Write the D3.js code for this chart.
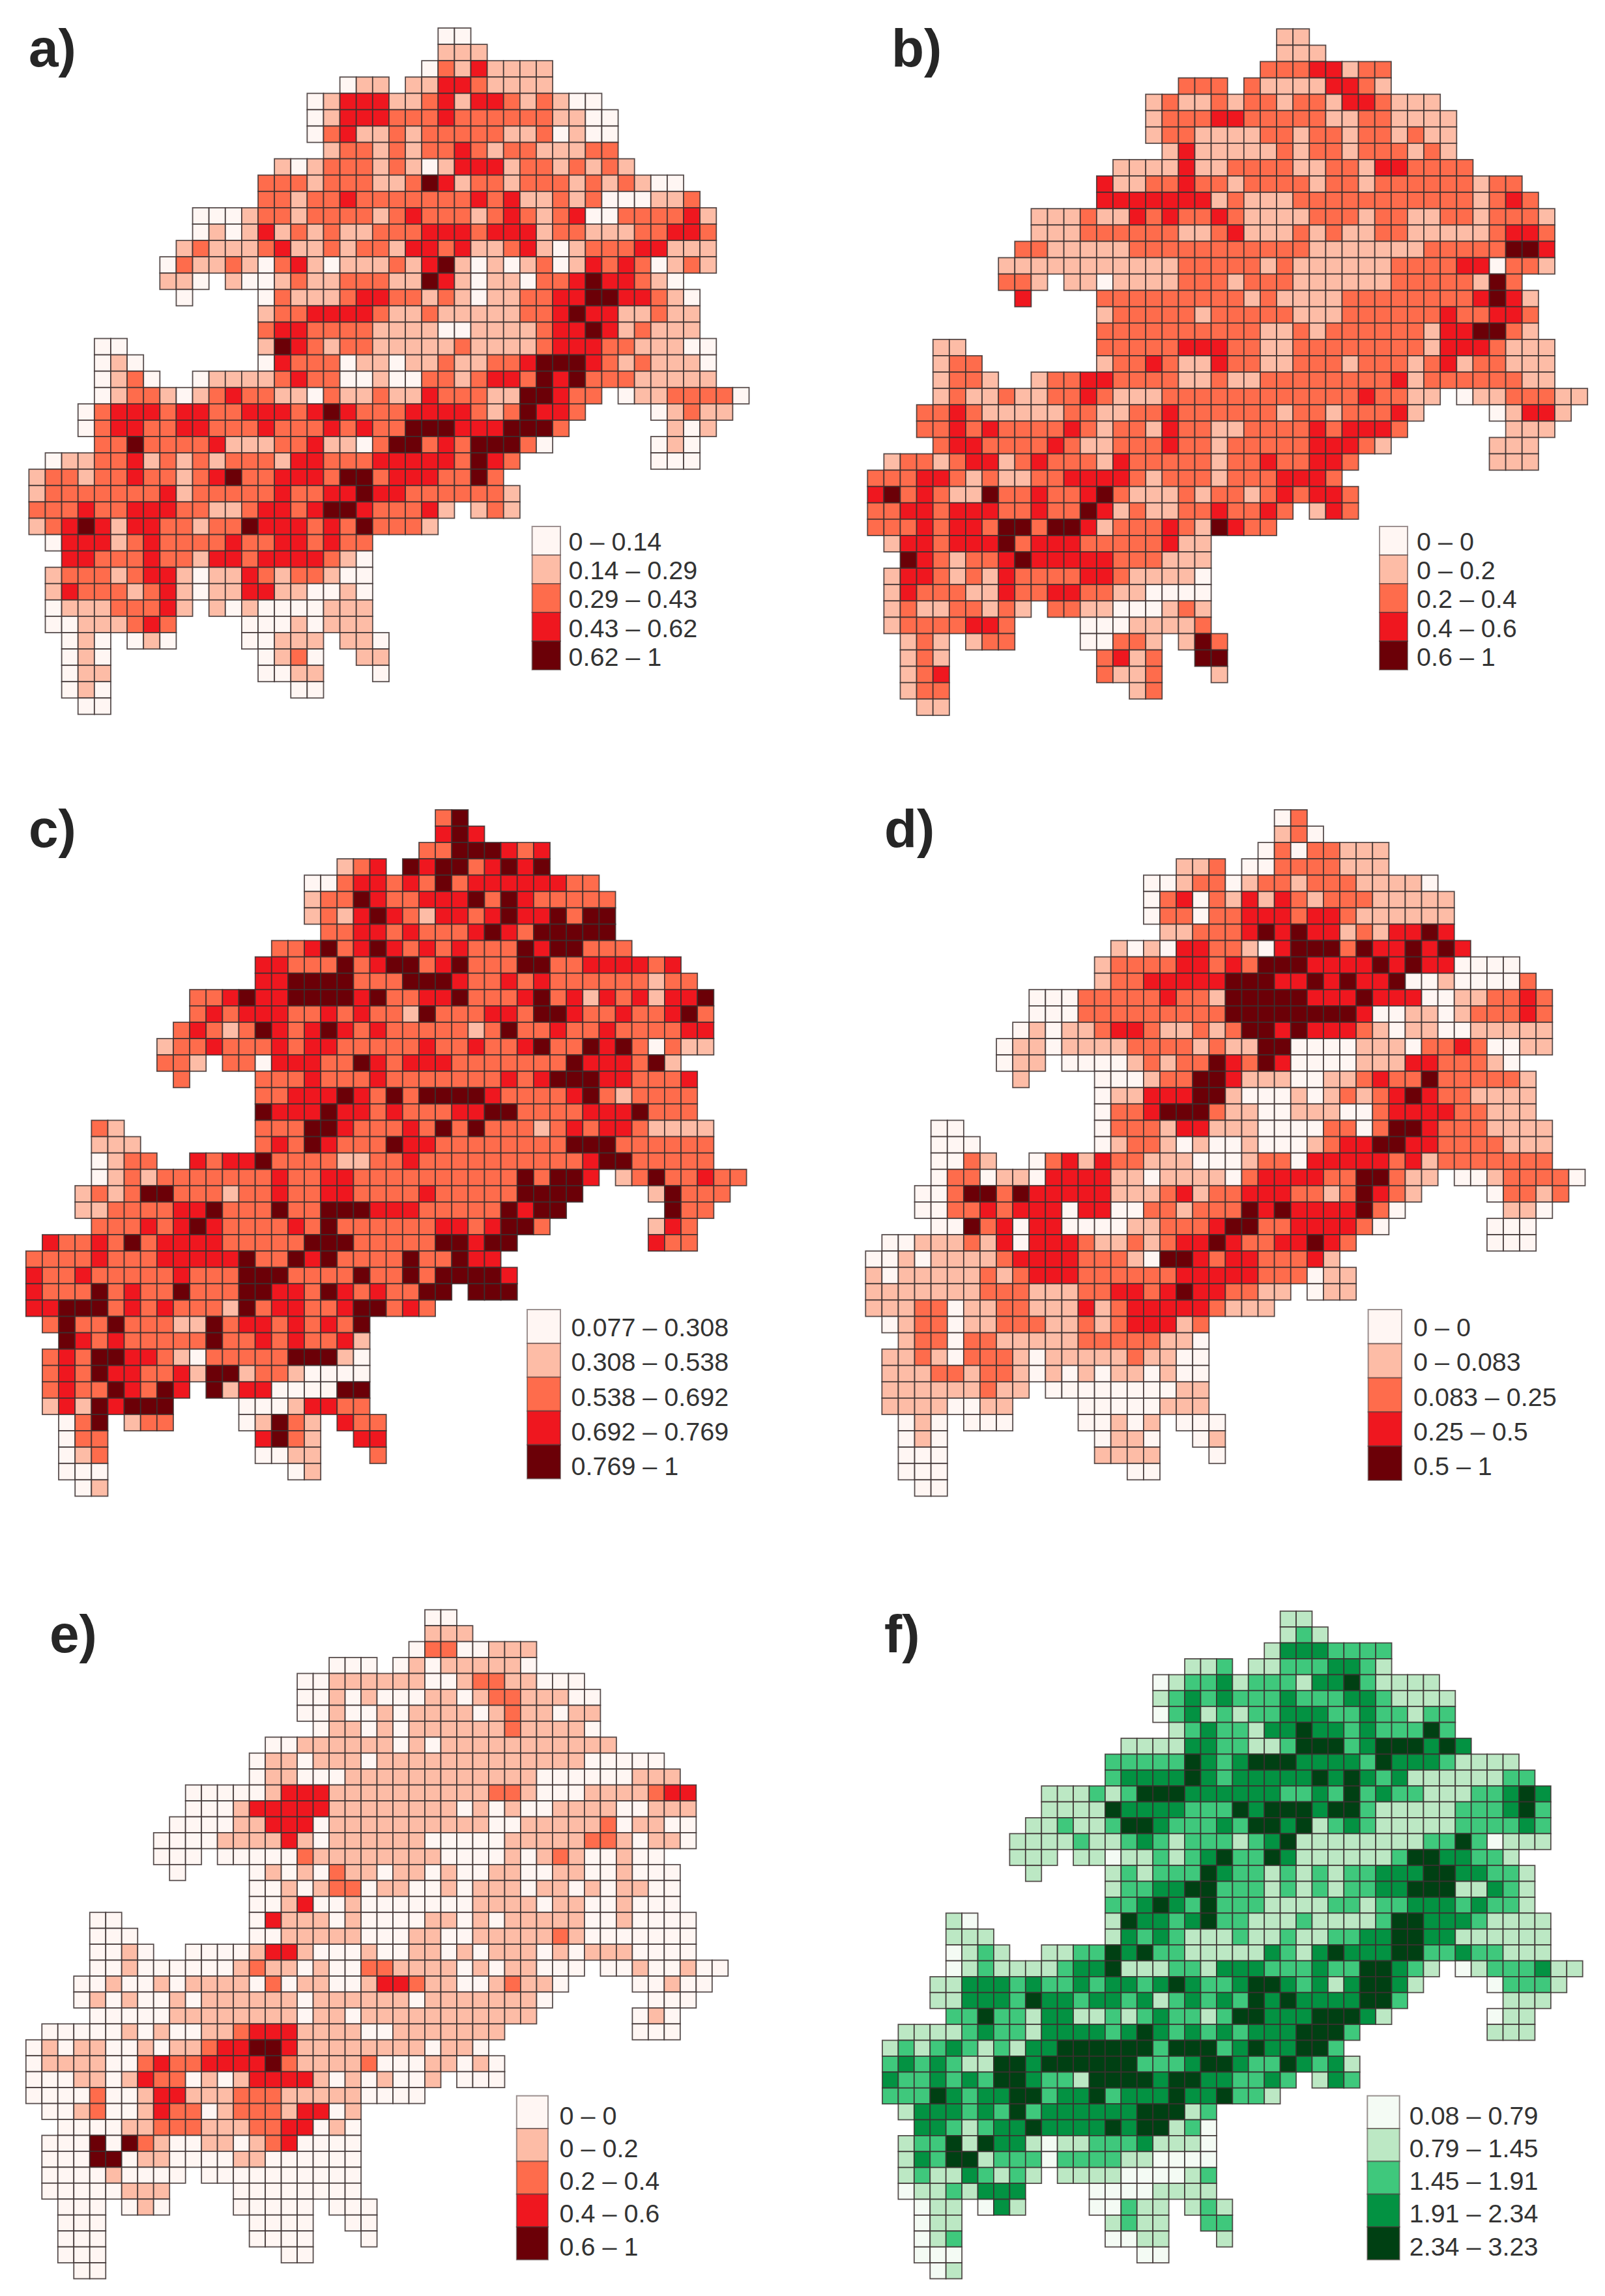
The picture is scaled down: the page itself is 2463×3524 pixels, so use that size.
<!DOCTYPE html>
<html><head><meta charset="utf-8">
<script src="https://cdnjs.cloudflare.com/ajax/libs/d3/7.8.5/d3.min.js"></script>
<style>html,body{margin:0;padding:0;background:#fff}svg{display:block}text{font-family:"Liberation Sans",Arial,sans-serif}</style>
</head><body><div id="chart"></div>
<script>
// Column where each run of land cells starts, per grid row
const rowStarts=[[25],[25],[24],[19,23],[17],[17],[17],[18],[15],[14],[14],[10],[10],[9],[8],[8,12],[9,14],[14],[14],[4,14],[4,14],[4,10],[4,36],[3,38],[3,39],[4,38],[1,38],[0],[0],[0,27],[0],[1],[2],[1],[1],[1,11],[1,13],[2,6,13,19],[2,14,20],[2,14,21],[2,16],[3]];
// Class (0-4) of every cell; '|' separates runs within a row
const gridA=[
"0 0","1 1 1","0 2 1 3 1 1 1 1","0 1 1|1 1 3 3 2 1 1 1 1",
"0 1 3 3 3 1 1 2 3 1 3 3 2 1 2 1 0 0",
"0 1 3 3 3 2 2 2 3 2 2 2 2 2 2 1 1 0 0",
"0 2 3 1 1 2 1 2 2 2 2 2 1 1 2 0 1 0 0",
"1 2 2 1 2 1 2 2 3 2 1 2 2 1 1 1 2 2",
"1 0 1 2 2 2 1 2 1 0 1 3 3 3 1 2 2 1 2 1 2 1",
"2 2 2 1 2 2 2 1 1 2 4 3 1 2 2 1 2 2 2 1 2 1 2 1 0 0",
"2 2 1 2 2 3 2 2 2 2 2 2 2 3 2 3 1 1 2 1 2 0 0 0 1 1 2",
"0 0 0 1 2 2 1 2 2 2 2 1 2 3 2 2 2 1 2 3 2 1 2 3 0 0 2 2 2 2 3 1",
"0 1 0 1 3 1 2 1 2 1 1 2 2 2 3 3 3 2 3 3 3 1 2 2 1 1 1 2 2 3 3 2",
"1 2 1 1 1 2 3 1 1 2 1 2 2 1 3 3 2 3 1 1 2 3 1 0 1 2 2 2 3 3 1 1 1",
"0 2 1 1 2 1 0 2 3 1 0 1 1 1 2 1 3 4 1 0 1 0 1 2 0 1 3 2 3 2 0 1 2 1",
"1 1 0|1 0 0 1 2 1 1 2 2 2 1 1 4 3 1 0 1 1 0 2 2 3 4 3 3 2 1 0",
"0|0 2 1 1 1 2 3 3 2 2 1 2 1 0 1 1 2 2 3 3 4 4 3 3 2 1 0",
"1 2 2 3 3 3 3 2 1 1 2 1 1 1 1 1 2 2 3 4 3 3 1 1 2 1 1",
"2 3 3 2 2 2 2 1 1 1 1 0 0 1 1 1 1 2 3 3 4 3 1 2 1 1 1",
"0 0|1 4 3 2 1 2 2 1 1 1 1 1 2 1 1 1 1 2 3 3 3 2 2 1 1 1 0 0",
"0 1 0|0 3 2 2 2 0 1 1 0 1 1 2 1 1 2 2 3 4 4 4 3 2 1 2 1 1 1 0",
"0 1 2 0|0 1 1 1 1 2 3 2 2 0 0 1 0 0 2 2 1 2 3 3 2 4 3 4 2 2 2 1 1 1 1 1",
"0 1 2 2 1 0 1 2 3 2 2 1 1 0 2 1 1 2 1 1 3 2 2 2 1 1 4 4 3 2 2|0 1 1 2 2 2 2 0",
"0 2 3 3 3 2 3 3 2 2 3 3 3 2 3 4 3 2 2 2 3 3 3 3 2 1 2 4 3 3 2|0 1 2 1 1",
"0 2 3 3 2 2 3 3 2 2 2 3 2 2 2 3 2 3 2 2 4 4 4 3 3 3 4 4 4 2|1 0 1",
"2 2 4 2 2 2 2 3 1 1 1 2 2 3 1 1 0 2 4 4 2 3 2 4 4 4 2 0|0 1 0",
"0 1 1 2 2 3 1 2 1 2 1 2 2 2 1 3 3 2 2 2 3 3 3 3 3 2 4 3 2|0 0 0",
"1 2 2 1 2 2 3 2 2 1 2 3 4 2 2 3 3 3 2 4 4 2 3 3 3 2 2 4 2",
"1 2 2 2 2 2 2 2 3 1 2 2 2 2 2 3 2 2 3 3 4 3 3 2 2 2 2 2 2 1",
"2 2 2 3 2 2 3 3 3 2 2 1 1 2 3 3 2 3 4 4 3 2 2 2 3 1|1 2 1",
"1 2 3 4 3 1 3 3 2 2 1 2 2 4 3 3 3 2 3 2 4 2 2 2 1",
"0 3 3 3 1 2 3 2 2 2 2 3 2 2 3 3 2 3 2 2",
"3 3 2 2 2 3 2 2 1 3 3 2 3 3 3 3 2 1 0",
"1 2 2 2 1 2 3 3 1 0 1 1 3 2 1 2 2 1 0 0",
"1 3 2 2 2 1 2 3 1 0 1 1 3 3 1 1 0 0 1 0",
"0 1 1 1 2 2 2 3 1|1 0 1 0 0 0 0 1 1 1",
"0 0 1 1 1 2 3 2|0 0 0 1 0 1 1 1",
"0 1 0|0 1 0|0 0 1 1 1|1 1 0","0 1 0|0 1 2 0|1 1","0 1 1|0 0 1 1|0","0 1 0|0 0","0 0"];
const gridB=[
"1 1","1 1 1","2 2 2 3 3 1 2 2","2 2 2|2 1 1 1 1 3 3 2 1",
"1 2 1 1 2 1 2 2 1 2 2 1 3 3 2 1 1 1",
"1 2 2 2 3 3 2 2 2 2 2 1 1 2 2 1 1 1 1",
"1 2 2 1 1 1 1 2 2 1 2 2 1 2 2 1 2 1 1",
"1 3 1 1 1 1 1 2 1 2 2 1 2 2 2 1 2 1",
"1 1 1 1 3 1 1 2 2 2 2 1 1 2 2 1 3 3 2 2 2 2",
"3 1 1 2 2 3 2 2 1 2 2 2 2 1 2 2 1 2 2 2 2 2 2 1 2 2",
"3 3 3 3 3 3 3 1 2 1 1 1 2 2 2 2 2 2 2 2 2 2 2 1 2 3 2",
"1 1 1 2 1 1 3 2 3 2 2 3 2 1 1 1 1 2 2 2 1 2 2 1 1 2 2 1 2 2 2 1",
"1 1 1 2 2 2 2 2 2 1 1 2 3 1 1 1 2 1 2 1 1 2 2 1 1 1 1 1 2 3 3 2",
"2 2 1 1 1 1 1 2 2 2 2 2 2 2 2 2 2 2 1 1 1 1 1 1 1 2 2 2 2 2 4 4 3",
"1 1 1 1 1 1 1 1 1 1 1 2 2 2 2 2 1 2 1 1 1 1 1 1 2 2 2 2 3 3 0 2 2 1",
"2 2 1|1 1 0 1 1 1 1 2 2 2 1 2 2 2 1 1 1 1 1 1 2 2 2 2 2 1 4 2",
"3|2 2 2 2 2 2 2 2 2 1 2 1 1 1 1 2 2 2 2 2 2 2 2 3 4 3 1",
"1 2 2 2 2 2 1 2 2 2 2 2 1 1 1 2 2 2 2 2 2 3 2 2 3 3 2",
"2 2 2 2 2 2 2 2 2 2 1 1 2 1 2 2 2 2 2 2 1 3 3 4 4 2 1",
"1 1|2 2 2 2 2 3 3 3 2 2 1 1 2 2 2 2 2 2 2 2 1 3 3 3 2 1 1 1",
"1 2 2|1 2 2 3 2 1 1 3 2 2 1 1 2 2 2 1 2 2 2 1 2 3 1 2 2 1 1 1",
"1 2 2 1|1 2 2 3 3 2 2 2 2 1 1 2 1 1 2 2 2 2 2 2 2 2 3 1 2 2 2 2 2 2 1 1",
"1 2 1 1 2 1 1 2 2 3 2 1 1 1 2 2 2 2 2 2 2 2 2 2 2 2 3 2 2 1 1|0 1 1 2 2 2 1 1",
"2 2 3 2 1 1 1 1 1 2 2 1 1 2 2 3 2 2 2 2 2 2 1 2 2 1 2 2 2 3 1|0 1 3 3 1",
"2 2 3 2 3 2 2 2 2 3 2 1 2 2 1 3 2 2 1 1 2 2 2 2 3 2 3 3 3 2|1 1 1",
"2 3 3 2 2 2 2 3 2 1 1 2 2 2 3 2 2 1 2 2 2 2 2 3 3 3 2 1|1 1 1",
"1 2 2 1 2 3 3 1 2 3 2 2 2 1 3 2 2 2 2 2 1 2 2 3 2 2 3 3 2|1 1 1",
"2 2 2 3 3 2 1 2 1 1 2 2 3 3 3 3 2 1 2 2 2 1 2 2 2 3 3 3 2",
"3 4 2 3 2 1 1 4 2 2 3 2 2 3 4 2 1 1 1 2 1 2 2 1 2 3 2 3 3 2",
"2 2 3 3 2 3 3 3 2 2 3 2 2 4 3 1 2 1 1 2 2 3 2 2 3 2|1 3 2",
"2 2 2 3 2 3 3 2 4 4 2 4 4 3 1 2 2 2 3 2 1 4 3 2 2",
"1 3 3 2 3 3 3 4 2 3 3 3 2 2 2 2 2 3 1 1",
"4 3 2 1 2 2 3 4 3 3 3 3 3 2 2 2 1 1 1",
"1 3 3 2 1 2 1 3 2 2 2 2 3 3 2 1 1 1 1 0",
"1 3 2 2 2 1 1 3 2 2 3 3 2 2 1 1 0 0 0 0",
"1 2 1 1 2 2 1 2 1|2 2 1 1 0 0 0 1 2 1",
"1 2 2 2 2 3 3 2|0 0 0 1 1 1 1 2",
"1 2 1|1 2 2|0 0 2 2 1|1 4 2","1 2 1|2 3 1 2|4 4","1 2 3|2 1 1 2|1","1 2 2|1 2","1 1"];
const gridC=[
"2 4","3 4 3","2 2 4 4 4 3 2 3","1 2 3|4 3 4 4 2 3 4 3 4",
"0 0 2 3 3 2 3 2 4 2 3 3 3 3 3 3 2 2",
"1 2 2 4 3 2 2 3 3 3 4 2 4 3 2 2 2 2 2",
"1 2 1 3 4 3 2 1 3 3 2 3 4 3 3 4 2 4 4",
"2 2 3 3 2 3 2 2 2 3 4 3 2 4 4 4 4 4",
"2 2 3 4 2 3 4 3 2 3 2 3 2 2 2 4 3 4 4 2 2 2",
"3 3 2 2 2 4 2 3 4 4 2 3 4 2 2 2 4 4 2 2 3 3 3 3 2 3",
"3 3 4 4 4 4 2 2 2 4 4 4 3 2 2 3 2 3 2 2 2 2 2 2 1 2 2",
"2 2 3 4 3 3 4 4 4 4 3 4 2 2 3 3 4 2 2 2 3 4 2 3 1 3 2 3 1 3 3 4",
"2 3 2 3 3 3 2 2 3 2 3 2 2 1 4 2 2 2 3 3 2 4 4 3 2 2 3 2 2 3 4 2",
"2 3 2 1 2 4 3 2 3 4 3 2 3 2 2 2 2 2 1 2 4 2 2 3 2 2 3 2 2 2 2 3 3",
"1 2 2 3 2 2 2 3 2 3 3 2 2 2 2 2 3 2 2 3 2 2 3 4 2 2 4 3 4 2 0 2 1 1",
"2 2 1|2 2 0 3 3 3 2 2 4 3 2 3 3 3 2 2 2 2 2 2 2 4 3 3 3 2 4 1",
"2|2 2 2 3 2 2 2 3 2 2 2 2 2 2 2 3 2 3 4 4 4 3 3 2 2 2 3",
"2 2 3 3 3 4 3 2 4 2 4 4 4 4 3 2 2 2 2 3 4 2 1 2 2 2 2",
"4 3 3 3 4 3 3 2 3 2 2 2 3 3 4 4 2 2 2 2 3 3 3 4 2 2 2",
"2 1|2 2 2 4 4 3 2 2 2 3 2 4 2 4 2 2 2 1 2 3 2 3 3 2 1 1 1 1",
"1 1 1|2 3 2 4 3 2 2 2 4 3 3 2 2 2 2 2 2 2 2 4 4 4 2 2 2 2 2 2",
"0 1 2 2|3 2 3 3 4 2 2 2 2 1 1 2 2 3 2 2 2 2 2 2 2 2 2 2 3 4 4 2 2 2 2 2",
"0 1 2 1 2 2 2 2 2 2 2 3 2 2 3 3 2 2 2 2 2 2 2 2 2 2 4 2 4 4 3|1 2 4 2 2 3 2 2",
"1 2 1 2 4 4 2 2 2 1 2 2 3 2 2 3 3 2 2 2 2 3 2 2 2 2 2 4 4 4 4|1 4 2 2 2",
"1 1 2 2 2 2 3 3 4 2 2 2 4 2 2 4 4 4 3 3 3 2 2 2 2 2 4 3 4 4|4 2 2",
"2 2 2 3 2 3 4 3 2 2 2 2 3 2 4 2 2 2 2 2 2 3 3 2 3 4 4 2|1 3 2",
"3 2 2 3 2 4 2 3 3 3 3 2 2 2 2 2 4 4 4 2 2 2 2 2 4 4 3 4 4|3 2 2",
"2 2 2 2 3 2 2 2 3 3 3 3 3 4 2 2 4 3 4 2 2 2 2 4 2 2 4 3 3",
"3 2 2 3 2 2 2 2 2 3 2 2 2 4 4 4 2 2 2 2 4 2 2 4 2 4 4 4 4 3",
"3 2 2 2 4 2 3 2 2 4 2 2 2 4 4 3 3 2 4 3 2 3 2 2 4 4|4 4 4",
"3 3 4 4 4 2 3 2 3 2 2 2 1 4 2 3 3 2 2 3 4 4 2 3 2",
"2 4 2 2 4 2 2 2 1 1 4 2 3 3 2 3 2 3 2 4",
"4 3 2 3 2 2 2 2 2 4 2 2 3 2 3 2 2 3 1",
"2 3 2 4 4 3 3 2 1 0 2 2 2 2 2 4 4 4 1 0",
"2 3 2 4 3 3 2 2 3 1 4 4 1 2 2 1 0 0 0 0",
"2 3 2 2 4 3 2 4 3|4 1 3 3 0 0 0 0 4 4",
"1 3 1 4 3 4 4 4|0 0 0 1 3 3 2 2",
"0 2 4|1 2 2|0 1 4 2 1|3 2 2","0 2 2|3 4 2 1|3 3","0 1 2|0 0 1 1|2","0 0 0|0 1","0 1"];
const gridD=[
"0 2","1 2 0","0 2 0 2 2 1 1 1","1 1 2|0 0 2 2 2 2 1 1 1",
"0 0 1 2 2 0 1 2 2 1 2 2 2 1 1 1 1 0",
"0 2 3 0 2 1 3 1 3 2 1 2 2 2 1 1 1 1 1",
"0 2 2 0 2 2 3 3 3 2 3 3 2 1 1 1 1 1 1",
"1 1 2 2 2 3 4 3 4 3 3 1 2 1 3 3 4 3",
"1 0 1 0 3 3 2 2 1 0 3 4 4 4 2 4 3 3 4 3 4 3",
"1 2 2 2 2 3 3 2 3 2 4 4 4 3 3 3 3 4 3 4 3 3 0 0 0 0",
"1 2 2 3 3 3 3 3 4 4 4 3 3 4 3 4 3 3 4 0 0 1 0 0 0 0 2",
"0 0 0 2 2 2 2 2 3 2 2 1 4 4 4 4 4 3 3 3 4 3 3 3 0 0 1 1 2 2 3 2",
"0 0 0 2 2 2 2 2 2 2 2 2 4 4 4 4 4 4 4 4 3 0 0 1 1 0 1 2 2 2 3 2",
"0 1 0 1 1 2 3 3 2 1 1 2 1 2 4 4 3 4 3 3 3 2 1 0 1 1 0 0 1 1 1 1 1",
"0 1 1 0 1 1 1 1 2 2 2 2 1 2 1 1 4 4 0 0 0 0 1 1 1 0 2 2 3 2 0 0 1 1",
"0 1 1|0 0 0 0 1 2 1 2 2 4 3 2 4 3 0 0 0 0 1 1 1 3 3 2 2 2 1 0",
"1|0 0 0 1 2 2 4 4 3 1 1 1 0 0 1 1 2 3 2 2 4 2 2 2 2 2 1",
"0 1 1 3 3 3 4 4 1 0 0 0 1 0 1 2 1 2 3 4 3 2 2 1 1 1 1",
"0 2 2 3 4 4 4 2 1 1 0 0 1 1 1 0 0 2 3 3 3 3 2 2 1 1 1",
"0 0|0 2 2 2 1 3 3 1 1 1 0 0 0 0 2 2 0 2 4 4 3 2 2 2 1 1 1 1",
"0 0 0|0 1 2 2 1 0 1 0 0 1 0 0 0 1 2 3 3 4 4 3 3 2 2 2 2 1 1 1",
"0 0 2 1|0 2 3 1 3 2 2 1 1 1 0 0 0 1 2 2 0 3 3 3 3 3 2 3 1 2 2 2 2 2 2 2",
"0 2 2 0 1 1 0 3 3 3 3 1 1 0 1 1 1 1 0 2 3 3 3 3 2 2 4 4 2 1 1|0 0 1 2 2 2 2 0",
"0 0 2 4 4 2 4 3 3 3 3 3 1 1 1 2 3 1 2 2 3 3 3 2 2 1 2 4 3 2 1|0 2 2 1 2",
"0 0 2 2 3 2 3 3 3 0 3 3 0 0 2 2 1 2 2 2 4 3 4 3 3 3 3 4 2 0|1 1 0",
"0 0 4 2 3 0 3 3 0 0 0 0 1 1 2 2 2 3 4 4 2 2 3 3 3 3 2 0|0 0 0",
"0 0 1 1 1 2 1 3 0 3 3 3 2 1 1 2 1 2 3 3 4 3 2 2 3 3 4 3 2|0 0 0",
"0 0 1 0 1 1 1 1 2 3 3 3 3 2 2 2 1 0 4 4 3 2 3 3 2 2 2 3 1",
"1 0 1 1 1 1 1 2 1 2 3 3 3 2 2 2 2 2 2 3 3 3 3 3 2 2 2 0 1 1",
"1 1 1 1 1 1 1 2 2 2 1 1 1 2 2 3 3 2 3 4 3 3 2 2 1 1|0 1 1",
"1 1 1 2 2 0 1 1 2 2 1 1 1 3 1 2 3 3 3 3 3 2 1 1 1",
"0 1 2 2 0 1 1 2 2 2 1 1 2 1 2 3 3 3 1 2",
"1 2 2 0 2 2 1 1 1 1 1 2 2 2 2 2 1 1 0",
"1 1 2 1 0 2 2 2 1 0 1 1 1 1 1 2 1 1 0 0",
"1 1 1 2 2 1 2 2 1 0 1 0 1 0 1 1 0 1 0 0",
"1 1 1 1 1 1 2 1 1|0 0 0 0 0 0 0 0 1 1",
"1 1 1 1 0 0 1 1|0 0 0 0 0 1 1 1",
"0 1 0|0 0 0|0 0 1 0 1|0 0 0","0 1 0|0 1 1 0|0 1","0 0 0|1 1 1 1|0","0 0 0|0 0","0 0"];
const gridE=[
"0 0","1 1 1","0 2 2 0 0 1 1 1","0 0 0|0 1 0 1 1 1 1 1 0",
"0 0 1 1 1 1 1 1 0 0 1 2 2 1 1 0 0 0",
"0 0 1 0 1 0 0 0 1 1 0 1 2 2 1 1 1 0 0",
"0 0 1 0 0 1 0 1 1 1 1 0 1 2 1 1 0 1 1",
"0 1 1 0 1 0 1 1 1 1 1 1 2 1 1 1 1 0",
"0 0 1 1 1 1 1 1 0 1 0 1 1 1 1 1 1 1 1 1 1 1",
"0 1 1 0 1 1 1 0 1 1 1 1 1 1 1 1 1 1 1 1 1 0 0 0 0 0",
"0 1 1 0 0 0 1 1 1 1 1 1 1 1 1 1 1 1 0 0 0 0 0 0 1 1 1",
"0 0 0 0 0 1 3 3 3 1 1 1 1 1 1 1 1 1 1 2 2 1 0 0 0 1 1 1 1 2 3 3",
"0 0 0 1 3 3 3 3 3 1 1 1 1 1 1 1 1 0 1 0 1 0 0 1 1 1 1 0 0 1 1 1",
"0 0 0 0 1 1 3 3 3 0 1 1 1 1 1 1 1 1 1 1 0 0 1 1 1 1 1 2 0 1 1 0 0",
"0 0 0 0 1 1 1 1 3 1 0 1 1 1 1 1 1 0 0 0 0 0 1 1 1 1 1 2 2 1 0 1 1 0",
"0 0 0|0 0 0 0 0 2 1 1 1 1 1 1 1 1 0 0 0 0 1 0 1 2 1 0 0 1 0 0",
"0|0 1 0 1 0 2 1 1 0 1 1 0 1 0 0 1 1 0 0 1 1 0 0 1 0 0 0",
"0 0 1 0 1 2 2 0 1 1 0 0 1 0 1 1 1 0 1 1 0 1 0 1 1 0 0",
"0 0 1 3 0 0 1 0 0 0 0 0 0 0 1 1 1 1 0 1 1 0 0 1 0 0 0",
"0 0|0 3 1 1 1 0 1 0 0 0 0 1 1 0 1 0 1 1 1 1 1 0 0 1 0 0 0 0",
"0 0 0|0 0 1 1 1 1 1 0 0 0 1 1 0 0 1 1 1 1 1 2 1 0 0 0 0 0 0 0",
"0 0 1 0|0 0 0 0 1 3 3 1 0 0 0 1 0 0 1 1 0 1 0 1 1 1 0 1 0 1 1 1 0 0 0 0",
"0 0 1 0 0 0 0 0 0 1 2 1 1 0 1 0 0 2 2 1 1 1 1 0 1 0 1 1 0 0 0|0 0 1 0 0 1 0 0",
"0 0 1 0 0 1 0 1 1 1 1 0 2 0 1 1 0 0 1 3 3 2 1 1 0 0 1 2 1 1 0|0 0 1 0 0",
"0 1 0 1 0 0 1 0 1 1 1 1 1 1 0 1 1 1 1 1 1 0 1 1 1 1 1 1 1 0|0 0 0",
"0 0 0 0 0 1 1 1 1 1 1 1 1 0 1 1 0 1 1 1 1 1 1 1 1 1 1 1|0 1 0",
"0 0 0 0 0 1 0 1 0 0 1 1 2 3 3 3 1 1 1 1 0 0 1 1 1 1 1 1 1|0 0 0",
"0 1 0 1 1 0 0 1 0 1 1 2 3 3 4 4 3 1 1 1 1 1 1 1 1 0 1 1 0",
"0 1 1 1 1 0 0 2 3 2 2 3 3 3 3 4 2 1 1 1 1 2 0 0 0 1 1 0 1 0",
"0 0 0 1 1 0 1 3 2 2 0 1 0 1 3 3 3 3 1 0 1 0 1 0 0 1|0 0 0",
"0 0 0 0 2 0 0 1 3 3 1 1 1 2 2 2 1 1 1 1 1 0 0 0 0",
"0 0 1 2 0 0 1 3 2 2 0 1 2 2 2 1 3 3 0 1",
"0 0 0 0 1 1 2 2 2 1 1 1 2 2 3 3 0 1 0",
"0 0 0 4 0 4 2 1 0 0 1 1 0 1 2 3 0 0 0 0",
"0 0 0 4 4 0 1 1 0 0 0 0 1 1 0 0 0 0 0 0",
"0 0 0 0 1 0 0 0 0|0 0 0 0 0 0 0 0 0 0",
"0 0 0 0 0 1 1 1|0 0 0 0 0 0 0 0",
"0 0 0|0 1 0|0 0 0 0 0|0 0 0","0 0 0|0 0 0 0|0 0","0 0 0|0 0 0 0|0","0 0 0|0 0","0 0"];
const gridF=[
"1 1","1 2 1","1 3 3 3 2 2 2 2","1 1 2|1 1 2 2 2 3 3 2 1",
"0 1 2 2 3 1 2 2 2 1 3 3 4 2 1 1 1 1",
"1 2 3 2 3 2 2 2 3 2 2 2 3 3 2 1 1 1 1",
"0 2 3 1 2 1 2 2 3 3 3 2 2 3 2 2 1 2 2",
"1 2 3 2 2 1 3 3 4 3 3 2 3 2 2 2 4 2",
"1 1 1 1 3 3 2 2 1 1 2 4 4 4 2 3 4 4 4 3 4 3",
"2 2 2 2 2 4 3 2 3 4 4 4 3 3 3 3 2 4 3 3 3 2 1 1 1 1",
"2 3 3 3 3 4 3 2 3 3 3 3 3 4 3 4 3 2 3 1 1 1 1 1 1 2 2",
"1 1 1 2 1 2 4 4 4 3 3 3 3 3 3 2 2 3 2 4 2 3 2 2 1 1 1 2 2 3 4 3",
"1 1 1 1 4 3 3 3 3 2 2 2 4 3 4 4 4 3 4 4 2 1 1 1 1 1 2 2 2 3 4 2",
"1 1 2 1 1 2 4 4 3 2 2 2 3 2 4 4 3 4 1 2 3 2 1 1 1 1 1 2 2 2 2 3 2",
"1 1 1 1 2 1 1 2 3 2 1 2 2 2 1 2 3 4 1 1 1 1 1 1 1 1 2 2 4 2 0 1 1 1",
"1 1 1|1 1 0 1 1 2 1 2 3 4 2 2 4 3 1 1 1 1 1 1 2 4 4 3 3 2 2 1",
"1|1 2 1 2 2 2 4 3 2 2 1 2 1 2 1 2 2 3 3 3 4 4 3 3 2 2 1",
"1 2 2 3 3 4 4 2 2 2 1 2 1 2 1 2 2 3 3 4 4 4 1 1 3 2 1",
"2 2 3 4 3 2 4 2 2 2 1 1 1 1 2 2 1 2 2 3 3 3 2 3 2 2 1",
"1 0|1 4 3 3 2 3 4 2 2 1 1 1 2 1 1 1 1 2 4 4 3 3 3 2 1 1 1 1",
"1 1 1|1 3 2 3 2 1 1 1 2 1 1 2 1 1 2 2 3 3 4 4 3 3 1 1 1 1 1 1",
"0 1 2 1|1 1 2 2 4 3 4 2 2 1 1 1 1 1 3 2 1 3 4 3 3 3 4 4 2 2 3 2 2 1 1 1",
"0 1 2 1 1 1 1 2 3 3 4 1 1 1 2 2 1 3 3 3 2 2 2 3 2 2 4 4 3 2 1|0 1 2 2 2 3 1 1",
"1 1 3 3 3 2 3 2 2 3 2 3 3 2 3 4 3 2 2 3 4 4 3 2 3 1 3 4 4 3 1|0 2 2 2 1",
"1 1 3 3 3 2 4 3 3 2 3 3 2 3 1 2 3 2 3 2 4 3 4 3 3 3 3 4 4 2|1 1 1",
"2 2 4 2 2 1 3 3 1 1 2 1 2 3 2 2 1 2 4 4 3 3 3 4 4 4 3 1|0 1 1",
"1 1 1 1 2 3 2 2 1 3 3 3 3 2 3 4 3 2 3 2 3 2 3 3 3 4 4 4 2|1 1 1",
"1 2 1 2 3 2 1 2 1 3 3 4 4 4 4 4 4 2 4 4 4 2 3 4 3 3 4 4 2",
"2 3 2 3 2 1 1 4 4 3 4 4 4 4 4 4 2 2 2 3 4 4 3 2 2 4 3 2 3 1",
"3 2 2 3 2 3 2 4 4 3 2 2 1 4 4 4 4 3 4 4 3 3 2 2 3 2|1 3 2",
"2 2 2 4 3 2 3 3 4 4 2 3 3 4 2 3 3 3 4 3 3 4 2 2 1",
"1 3 3 3 2 3 2 4 2 3 3 3 3 3 3 4 4 4 1 2",
"3 3 2 1 2 3 3 4 3 3 3 3 4 3 4 4 1 2 0",
"1 2 2 4 1 4 3 3 1 0 1 1 2 2 2 3 1 1 1 0",
"1 3 2 4 4 1 2 2 2 0 2 2 2 2 1 1 0 0 0 0",
"1 2 1 1 3 2 1 2 1|1 1 1 1 0 0 0 0 1 2",
"0 1 1 2 1 3 3 3|0 0 0 0 1 1 1 1",
"0 1 1|0 3 1|0 0 2 1 1|1 2 1","0 1 1|1 2 1 1|2 2","0 1 2|0 0 1 1|1","0 0 0|0 0","0 1"];

const redColors=["#fff6f3","#fdbca6","#fe6c4c","#ef171f","#6b0007"];
const greenColors=["#f4fbf4","#bce8c4","#3fc87c","#039242","#004013"];
const labelsA=["0 – 0.14","0.14 – 0.29","0.29 – 0.43","0.43 – 0.62","0.62 – 1"];
const labelsB=["0 – 0","0 – 0.2","0.2 – 0.4","0.4 – 0.6","0.6 – 1"];
const labelsC=["0.077 – 0.308","0.308 – 0.538","0.538 – 0.692","0.692 – 0.769","0.769 – 1"];
const labelsD=["0 – 0","0 – 0.083","0.083 – 0.25","0.25 – 0.5","0.5 – 1"];
const labelsE=["0 – 0","0 – 0.2","0.2 – 0.4","0.4 – 0.6","0.6 – 1"];
const labelsF=["0.08 – 0.79","0.79 – 1.45","1.45 – 1.91","1.91 – 2.34","2.34 – 3.23"];

const panels=[
 {tag:"a)",grid:gridA,labels:labelsA,colors:redColors,x:[44.4,1149.5],y:[43,1096.4],lx:[816.6,860],ly:[808,1028],ty:[845,1021.7],tx:872.5,tagX:44,tagY:102},
 {tag:"b)",grid:gridB,labels:labelsB,colors:redColors,x:[1331.3,2436.2],y:[44.3,1097.9],lx:[2117,2160],ly:[808,1028],ty:[845,1021.7],tx:2174,tagX:1368,tagY:102},
 {tag:"c)",grid:gridC,labels:labelsC,colors:redColors,x:[39.8,1145.6],y:[1242.9,2296.4],lx:[809,860],ly:[2010,2269.5],ty:[2051,2264],tx:876.5,tagX:44,tagY:1300},
 {tag:"d)",grid:gridD,labels:labelsD,colors:redColors,x:[1328.3,2432.5],y:[1242.9,2296.4],lx:[2099.6,2151],ly:[2010,2272],ty:[2051,2264],tx:2169,tagX:1357,tagY:1300},
 {tag:"e)",grid:gridE,labels:labelsE,colors:redColors,x:[39.8,1117.3],y:[2470.7,3497.5],lx:[792.8,841],ly:[3216.7,3468.3],ty:[3260.7,3461.7],tx:858.6,tagX:76,tagY:2536},
 {tag:"f)",grid:gridF,labels:labelsF,colors:greenColors,x:[1354,2428.7],y:[2472.8,3497.5],lx:[2098.3,2147.7],ly:[3216.7,3468.3],ty:[3260.7,3461.7],tx:2162.7,tagX:1357,tagY:2536}
];

const svg=d3.select("#chart").append("svg").attr("width",2463).attr("height",3524).attr("viewBox","0 0 2463 3524");
svg.append("rect").attr("width",2463).attr("height",3524).attr("fill","#fff");

panels.forEach(p=>{
  const col=d3.scaleBand().domain(d3.range(44)).range(p.x);
  const row=d3.scaleBand().domain(d3.range(42)).range(p.y);
  const colour=d3.scaleOrdinal().domain(d3.range(5)).range(p.colors);
  const cells=[];
  p.grid.forEach((line,r)=>{
    line.split("|").forEach((run,k)=>{
      run.trim().split(/\s+/).forEach((v,i)=>{
        cells.push({r,c:rowStarts[r][k]+i,v:+v});
      });
    });
  });
  const g=svg.append("g");
  g.selectAll("rect").data(cells).join("rect")
    .attr("x",d=>col(d.c)).attr("y",d=>row(d.r))
    .attr("width",col.bandwidth()).attr("height",row.bandwidth())
    .attr("fill",d=>colour(d.v))
    .attr("stroke","#3b3030").attr("stroke-opacity",0.85).attr("stroke-width",1.8);
  const ls=d3.scaleBand().domain(d3.range(5)).range(p.ly);
  const ts=d3.scalePoint().domain(d3.range(5)).range(p.ty);
  const lg=svg.append("g");
  lg.selectAll("rect").data(p.labels).join("rect")
    .attr("x",p.lx[0]).attr("y",(d,i)=>ls(i))
    .attr("width",p.lx[1]-p.lx[0]).attr("height",ls.bandwidth())
    .attr("fill",(d,i)=>colour(i)).attr("stroke","#4a3a3a").attr("stroke-opacity",0.55).attr("stroke-width",2);
  lg.selectAll("text").data(p.labels).join("text")
    .attr("x",p.tx).attr("y",(d,i)=>ts(i))
    .attr("font-size",39.5).attr("fill","#333").text(d=>d);
  svg.append("text").attr("x",p.tagX).attr("y",p.tagY)
    .attr("font-size",82).attr("font-weight","bold").attr("fill","#262626").text(p.tag);
});
</script></body></html>
